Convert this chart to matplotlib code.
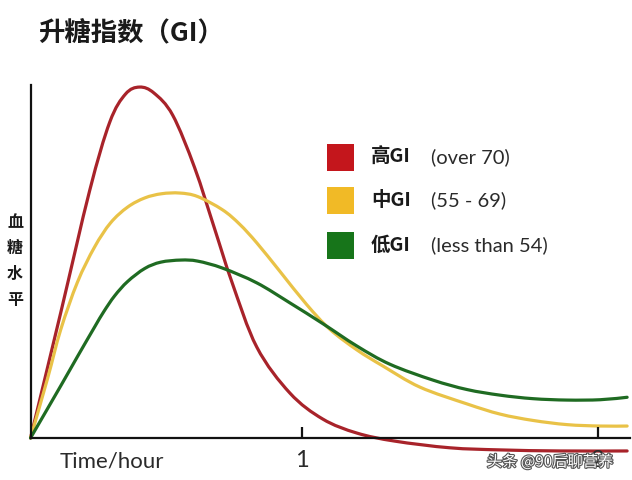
import matplotlib
matplotlib.use("Agg")
import matplotlib.pyplot as plt
import matplotlib.patheffects as pe
from matplotlib.patches import Rectangle, PathPatch
from matplotlib.path import Path

plt.rcParams['font.family'] = ['Noto Sans CJK SC', 'DejaVu Sans']

# ---- data (time in hours, blood sugar level in relative units) ----
red_x = [0, 0.111, 0.218, 0.292, 0.350, 0.402, 0.455, 0.524, 0.605, 0.679, 0.742, 0.834,
         0.956, 1.077, 1.203, 1.343, 1.546, 1.731, 1.952, 2.199]
red_y = [0, 35.6, 70.5, 90.0, 98.0, 100, 98.3, 92.0, 77.0, 59.5, 44.5, 25.9,
         12.8, 5.4, 1.4, -0.9, -2.8, -3.4, -3.7, -3.7]

yel_x = [0, 0.063, 0.111, 0.173, 0.236, 0.295, 0.358, 0.421, 0.483, 0.550, 0.616, 0.708,
         0.771, 0.834, 0.919, 1.018, 1.103, 1.203, 1.299, 1.435, 1.609, 1.731, 1.852,
         1.978, 2.100, 2.199]
yel_y = [0, 17.0, 30.8, 44.4, 54.4, 61.3, 65.8, 68.4, 69.6, 69.8, 68.8, 65.0,
         60.9, 55.6, 47.5, 38.0, 31.0, 25.1, 20.5, 14.5, 9.7, 6.8, 5.0,
         3.8, 3.4, 3.4]

grn_x = [0, 0.111, 0.173, 0.236, 0.270, 0.310, 0.358, 0.421, 0.480, 0.554, 0.616, 0.708,
         0.834, 0.956, 1.077, 1.203, 1.325, 1.483, 1.609, 1.731, 1.852, 1.978, 2.100,
         2.199]
grn_y = [0, 14.8, 23.2, 31.6, 36.0, 40.5, 44.6, 48.3, 50.1, 50.7, 50.4, 48.4,
         44.2, 38.5, 32.6, 26.2, 21.0, 16.5, 13.8, 12.2, 11.2, 10.8, 10.9,
         11.6]

tick_pos = [1.0, 2.09]
tick_labels = ['1', '2']

legend_main = ['高GI', '中GI', '低GI']
legend_note = ['(over 70)', '(55 - 69)', '(less than 54)']
line_colors = ['#A8232A', '#E9C247', '#1F6B22']
box_colors = ['#C4161C', '#F1BA26', '#17751A']

LATO = ['Lato', 'DejaVu Sans']


def smooth_path(xs, ys):
    """Catmull-Rom curve through the read points, drawn as cubic Bezier segments."""
    pts = list(zip(xs, ys))
    verts = [pts[0]]
    codes = [Path.MOVETO]
    n = len(pts)
    for i in range(n - 1):
        p0 = pts[i - 1] if i > 0 else pts[i]
        p1 = pts[i]
        p2 = pts[i + 1]
        p3 = pts[i + 2] if i + 2 < n else pts[i + 1]
        c1 = (p1[0] + (p2[0] - p0[0]) / 6, p1[1] + (p2[1] - p0[1]) / 6)
        c2 = (p2[0] - (p3[0] - p1[0]) / 6, p2[1] - (p3[1] - p1[1]) / 6)
        verts += [c1, c2, p2]
        codes += [Path.CURVE4] * 3
    return Path(verts, codes)


fig = plt.figure(figsize=(6.32, 4.80), dpi=100)
ax = fig.add_axes([0.0483, 0.051, 0.9487, 0.772])

for xs, ys, c in [(red_x, red_y, line_colors[0]), (yel_x, yel_y, line_colors[1]),
                  (grn_x, grn_y, line_colors[2])]:
    patch = PathPatch(smooth_path(xs, ys), facecolor='none', edgecolor=c, lw=2.3,
                      capstyle='round', joinstyle='round', clip_on=False)
    ax.add_patch(patch)

ax.set_xlim(0, 2.21)
ax.set_ylim(-5, 100.6)
ax.spines['top'].set_visible(False)
ax.spines['right'].set_visible(False)
ax.spines['bottom'].set_position(('data', 0))
ax.spines['left'].set_bounds(0, 100.6)
for s in ['left', 'bottom']:
    ax.spines[s].set_linewidth(1.6)
    ax.spines[s].set_color('#111111')
ax.set_yticks([])
ax.set_xticks(tick_pos)
ax.set_xticklabels(tick_labels, fontsize=17, color='#2a2a2a', family=LATO)
ax.tick_params(axis='x', direction='in', length=8, width=1.6, color='#111111', pad=9)

# title
fig.text(38 / 632, 1 - 33 / 480, '升糖指数（GI）', fontsize=19, fontweight='bold',
         color='#1a1a1a', va='center', ha='left')

# y label (vertical stacked characters)
fig.text(15 / 632, 1 - 261 / 480, '血\n糖\n水\n平', fontsize=11.5, fontweight='bold',
         color='#1a1a1a', va='center', ha='center', linespacing=1.75)

# x label
fig.text(112 / 632, 1 - 462 / 480, 'Time/hour', fontsize=16, color='#2a2a2a',
         family=LATO, va='center', ha='center')

# legend
row_y = [157, 200, 245]
for i in range(3):
    yc = 1 - row_y[i] / 480
    fig.patches.append(Rectangle((327 / 632, yc - 13.5 / 480), 27 / 632, 27 / 480,
                                 transform=fig.transFigure, facecolor=box_colors[i],
                                 edgecolor='none'))
    fig.text(371 / 632, yc, legend_main[i], fontsize=14, fontweight='bold', color='#1a1a1a',
             va='center', ha='left')
    fig.text(431 / 632, yc, legend_note[i], fontsize=14.5, color='#2a2a2a',
             family=LATO, va='center', ha='left')

# watermark
fig.text(550 / 632, 1 - 462 / 480, '头条 @90后聊营养', fontsize=11, color='white',
         va='center', ha='center',
         path_effects=[pe.withStroke(linewidth=1.6, foreground='#555555')])

fig.savefig('out.png', dpi=100)
